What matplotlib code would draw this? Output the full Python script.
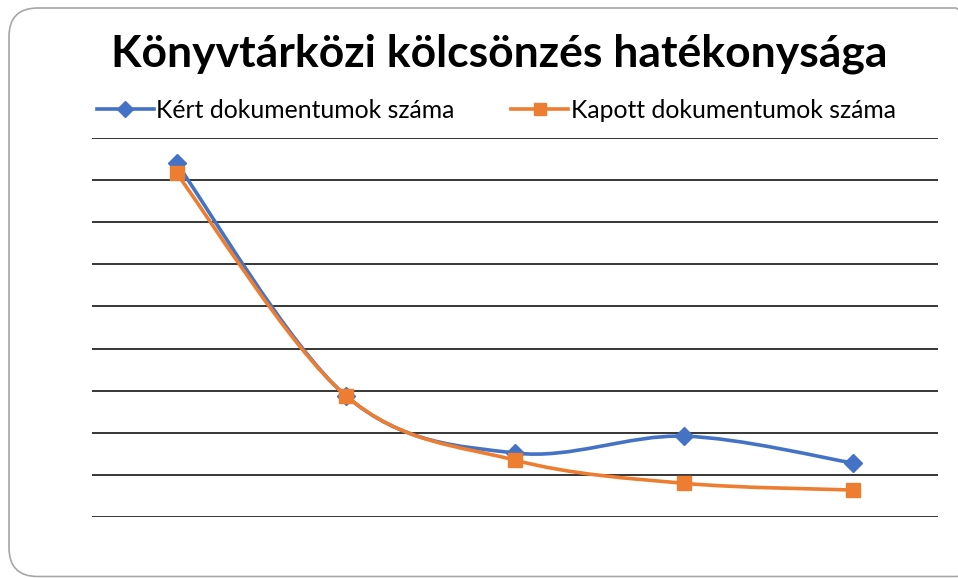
import matplotlib
matplotlib.use("Agg")
import matplotlib.pyplot as plt
from matplotlib.path import Path
from matplotlib.patches import PathPatch, FancyBboxPatch
from matplotlib.lines import Line2D

plt.rcParams['font.family'] = ['Lato', 'DejaVu Sans']

# adatok (az ábráról leolvasva, ezer darabban)
kategoriak = ["1", "2", "3", "4", "5"]
kert = [8.40, 2.88, 1.52, 1.92, 1.28]
kapott = [8.16, 2.88, 1.35, 0.80, 0.64]
cimkek = ["Kért dokumentumok száma", "Kapott dokumentumok száma"]
cim = "Könyvtárközi kölcsönzés hatékonysága"

kek = "#4472C4"
narancs = "#ED7D31"


def sima_vonal(xs, ys):
    # Excel-szerű simítás: Catmull-Rom -> köbös Bezier szakaszok
    pts = list(zip(xs, ys))
    verts = [pts[0]]
    codes = [Path.MOVETO]
    n = len(pts)
    for i in range(n - 1):
        p0 = pts[i - 1] if i > 0 else pts[i]
        p1 = pts[i]
        p2 = pts[i + 1]
        p3 = pts[i + 2] if i + 2 < n else pts[i + 1]
        c1 = (p1[0] + (p2[0] - p0[0]) / 6, p1[1] + (p2[1] - p0[1]) / 6)
        c2 = (p2[0] - (p3[0] - p1[0]) / 6, p2[1] - (p3[1] - p1[1]) / 6)
        verts += [c1, c2, p2]
        codes += [Path.CURVE4] * 3
    return Path(verts, codes)


fig = plt.figure(figsize=(9.58, 5.78), dpi=100)
ax = fig.add_axes([92 / 958, 1 - 517 / 578, 846 / 958, 379 / 578])

x = list(range(len(kategoriak)))
for szint in range(10):
    ax.axhline(szint, color="black", lw=1.1, zorder=1)

for ys, szin, marker, ms in [(kert, kek, "D", 9), (kapott, narancs, "s", 10)]:
    ax.add_patch(PathPatch(sima_vonal(x, ys), fill=False, edgecolor=szin,
                           lw=2.6, capstyle="round", zorder=3))
    ax.plot(x, ys, linestyle="none", marker=marker, ms=ms, color=szin, zorder=4)

ax.set_xlim(-0.5, 4.5)
ax.set_ylim(0, 9)
ax.set_xticks([])
ax.set_yticks([])
for s in ax.spines.values():
    s.set_visible(False)

fig.text(499 / 958, 1 - 67 / 578, cim, ha="center", va="baseline",
         fontsize=32, fontweight="bold", color="black")

fogok = [Line2D([], [], color=kek, lw=2.6, marker="D", ms=8),
         Line2D([], [], color=narancs, lw=2.6, marker="s", ms=9)]
fig.legend(fogok, cimkek, loc="center", bbox_to_anchor=(0.518, 1 - 110 / 578),
           ncol=2, frameon=False, fontsize=17.8, handlelength=2.3,
           handletextpad=0.1, columnspacing=2.3)

keret = FancyBboxPatch((9 / 958, 1.5 / 578), 975 / 958, 568.5 / 578,
                       boxstyle="round,pad=0,rounding_size=0.03",
                       transform=fig.transFigure, fill=False,
                       edgecolor="#A6A6A6", lw=1.2, mutation_aspect=958 / 578)
fig.patches.append(keret)

fig.savefig("out.png", dpi=100)
